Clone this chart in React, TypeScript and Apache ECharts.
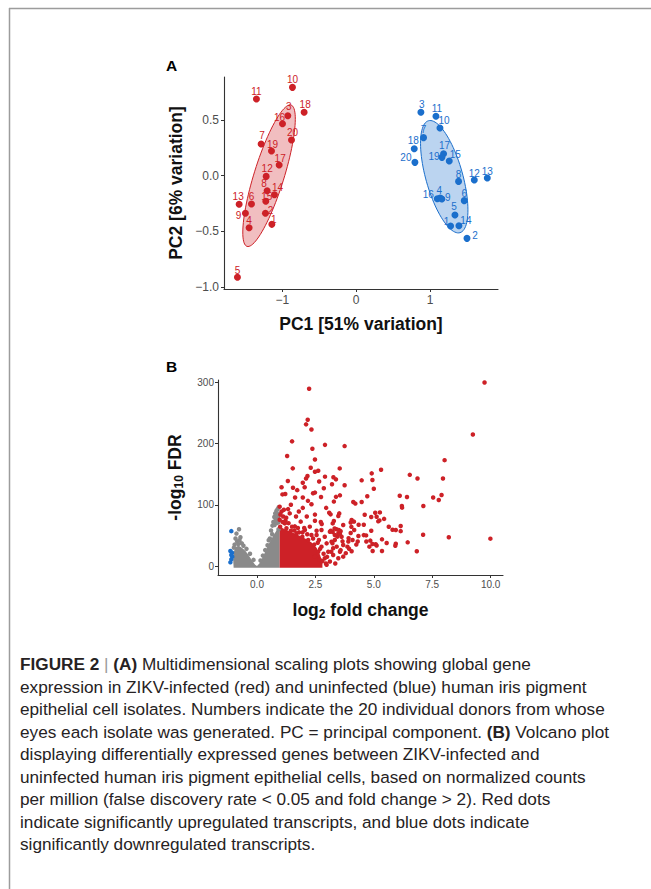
import React, { useEffect, useRef } from "react";
import * as echarts from "echarts";

// ---------- Panel A: MDS / PCA ----------
const pcXTicks = [-1, 0, 1];
const pcYTicks = [-1, -0.5, 0, 0.5];

// [donor, PC1, PC2] ZIKV-infected (red)
const infectedPCA: [string, number, number][] = [
  ["10", -0.863, 0.794], ["11", -1.351, 0.689], ["18", -0.705, 0.571], ["3", -0.926, 0.539],
  ["16", -0.998, 0.467], ["20", -0.876, 0.321], ["7", -1.287, 0.285], ["19", -1.147, 0.222],
  ["17", -1.043, 0.096], ["12", -1.219, -0.006], ["8", -1.206, -0.135], ["14", -1.107, -0.171],
  ["15", -1.224, -0.23], ["13", -1.585, -0.257], ["6", -1.418, -0.254], ["2", -1.229, -0.338],
  ["9", -1.5, -0.338], ["1", -1.142, -0.437], ["4", -1.45, -0.467], ["5", -1.608, -0.913],
];
// [donor, PC1, PC2] uninfected (blue)
const uninfectedPCA: [string, number, number][] = [
  ["3", 0.876, 0.57], ["11", 1.08, 0.534], ["10", 1.134, 0.429], ["7", 0.912, 0.342],
  ["18", 0.786, 0.243], ["20", 0.795, 0.12], ["17", 1.183, 0.198], ["19", 1.161, 0.165],
  ["15", 1.26, 0.132], ["8", 1.386, -0.051], ["12", 1.599, -0.039], ["13", 1.775, -0.021],
  ["16", 1.098, -0.207], ["4", 1.138, -0.2], ["9", 1.16, -0.21], ["6", 1.463, -0.224],
  ["5", 1.337, -0.353], ["1", 1.278, -0.452], ["14", 1.391, -0.449], ["2", 1.5, -0.563],
];
// label nudges (px), styling only
const infectedNudge: [number, number][] = [
  [0, -8], [0, -8], [1, -8], [1, -9], [-3, -6], [1, -7], [1, -8], [1, -7], [1, -7], [1, -8],
  [-3, -7], [3, -7], [1, -5], [-1, -8], [0, -7], [5, -3], [-7, 2], [2, -5], [0, -7], [0, -7],
];
const uninfectedNudge: [number, number][] = [
  [1, -8], [1, -8], [4, -7], [0, -8], [-1, -8], [-9, -5], [1, -8], [-8, -1], [6, -7], [0, -7],
  [0, -7], [0, -7], [-9, -4], [-1, -7], [6, -2], [0, -7], [-1, -8], [-4, -5], [7, -5], [8, -3],
];
// confidence ellipses: centre and two conjugate semi-axes (data units)
const infectedEllipse = { center: [-1.18, 0.0], a: [0.298, 0.635], b: [0.194, -0.04] };
const uninfectedEllipse = { center: [1.192, -0.009], a: [-0.213, 0.503], b: [0.24, 0.045] };

// ---------- Panel B: volcano ----------
const volXTicks = [0, 2.5, 5, 7.5, 10];
const volYTicks = [0, 100, 200, 300];

const grayCloudOutline: [number, number][] = [
  [-1.0, -3], [-1.02, 10], [-1.0, 22], [-0.95, 28], [-0.88, 32], [-0.78, 33], [-0.65, 30],
  [-0.5, 25], [-0.35, 17], [-0.2, 8], [-0.08, 2], [0, 0], [0.1, 4], [0.2, 11], [0.3, 19],
  [0.4, 28], [0.5, 36], [0.6, 43], [0.7, 50], [0.8, 56], [0.9, 62], [0.97, 64], [0.97, -3],
];
const grayPoints: [number, number][] = [
  [-0.77, 60], [-0.88, 53], [-0.71, 47], [-0.85, 40], [-0.75, 42], [-0.92, 45], [-0.65, 37],
  [-0.96, 35], [-0.58, 33], [-0.45, 28], [-0.8, 36], [-0.99, 30], [-0.3, 20], [-0.15, 10],
  [0.15, 9], [0.25, 17], [0.35, 26], [0.45, 34], [0.55, 45], [0.65, 52], [0.6, 58], [0.66, 66],
  [0.75, 67], [0.7, 72], [0.8, 75], [0.92, 72], [0.85, 70], [0.74, 80], [0.9, 79], [0.86, 84],
  [0.78, 86], [0.83, 90], [0.88, 93], [0.93, 96], [0.95, 85], [0.5, 42], [0.92, 60],
];
const redCloudOutline: [number, number][] = [
  [0.97, -3], [0.97, 64], [1.2, 60], [1.5, 55], [1.8, 50], [2.1, 44], [2.35, 38], [2.55, 30],
  [2.7, 18], [2.8, 6], [2.8, -3],
];
const upPoints: [number, number][] = [
  [2.23, 289.7], [2.1, 231.5], [2.17, 239], [2.33, 223], [1.5, 203.7], [2.91, 198], [2.37, 191.7],
  [3.75, 196], [1.29, 179.7], [2.48, 174], [1.53, 159.6], [2.3, 160.7], [3.54, 159.5], [2.62, 155.8],
  [2.48, 154], [2.16, 147], [2.91, 146], [3.27, 145], [1.32, 139], [2.1, 143], [1.96, 136],
  [2.66, 138], [3.21, 133.5], [3.75, 132], [1.05, 128.6], [1.54, 128], [2.04, 128.6], [2.86, 127],
  [1.21, 117.6], [1.09, 117], [1.72, 124], [2.74, 112.7], [2.48, 120], [2.4, 119], [1.96, 112],
  [1.63, 112], [3.55, 115.5], [3.29, 105.3], [2.18, 106.5], [2.33, 101], [1.96, 95], [1.45, 100],
  [2.96, 95], [1.33, 93], [3.09, 87], [3.52, 86], [1.79, 89], [2.48, 84], [1.67, 81], [2.13, 81],
  [1.22, 74], [2.77, 68.6], [2.48, 74], [3.24, 69.6], [3.4, 60], [1.62, 64.8], [2.02, 62],
  [3.58, 57], [2.55, 57.6], [1.45, 57.6], [3.24, 55.6],
  [9.74, 300], [9.24, 215], [8.03, 173], [5.31, 157.4], [4.91, 151.4], [6.54, 149], [3.38, 141.6],
  [7.96, 143], [6.87, 143], [4.48, 140], [4.94, 140.5], [5.0, 126.3], [6.11, 114.9], [6.42, 112.7],
  [4.72, 114], [3.38, 113], [7.9, 116], [7.54, 112], [7.78, 107.9], [6.2, 98], [6.21, 95.4],
  [7.12, 98], [4.12, 104.6], [4.21, 102], [4.48, 104.6], [4.61, 83.8], [5.06, 87], [5.26, 87.6],
  [5.12, 80.5], [4.89, 80], [5.24, 74.5], [5.44, 77], [5.19, 73], [3.15, 84.4], [3.48, 81.7],
  [3.29, 73.5], [4.05, 75.2], [4.15, 72.5], [4.01, 71], [4.35, 67.4], [4.89, 57.6], [4.67, 50],
  [5.64, 64.2], [5.8, 59.3], [5.94, 58.8], [6.15, 65.3], [6.15, 57], [7.11, 51.2], [8.21, 46.9],
  [9.99, 44.7], [6.45, 38.7], [5.94, 36.5], [5.92, 33.2], [5.55, 37.6], [5.35, 43.6], [5.35, 24.5],
  [4.95, 24.5], [6.84, 24], [5.08, 35.5], [5.12, 33.4], [4.85, 41.5], [4.94, 36], [4.81, 31.6],
  [4.68, 40], [4.57, 50.5], [4.34, 49], [4.31, 40], [4.25, 35], [4.09, 42.6], [3.92, 45.3],
  [3.91, 40], [3.87, 31.6], [3.94, 28.3], [3.66, 40.3], [3.58, 26], [3.48, 53.4], [3.44, 48],
  [3.33, 42.6], [3.23, 37.3], [3.26, 29], [3.18, 23.4], [4.01, 53.9], [4.16, 58.8], [4.57, 67.4],
  [4.04, 64], [3.69, 67], [3.16, 57.6], [3.32, 61.4], [3.55, 52],
  [2.55, 50.6], [2.76, 58.8], [2.9, 47.9], [3.12, 56], [3.33, 50.6], [3.5, 58.8], [3.62, 47.9],
  [2.98, 37], [3.19, 39.8], [3.41, 31.6], [2.76, 31.6], [2.62, 23.4], [3.05, 23.4], [3.26, 18],
  [3.55, 23.4], [2.9, 12.6], [2.69, 10], [3.12, 7.3], [3.48, 12.6], [3.69, 15.3], [2.73, 72],
  [2.65, 42.5], [2.48, 15.3], [3.69, 34.3], [3.35, 4], [2.98, 2], [3.8, 21], [4.05, 24],
  [0.97, 97], [1.05, 89], [1.12, 81], [0.97, 75.5], [1.19, 69.6], [1.4, 86], [1.5, 64.3],
  [1.26, 61.6], [0.99, 64.3], [1.87, 72.5], [1.69, 53.4], [2.05, 58.8], [2.26, 64.3], [1.94, 47.9],
  [2.33, 50.6], [2.19, 42.5], [1.35, 70], [1.1, 72], [1.6, 58], [1.8, 55], [2.4, 45], [2.6, 38],
  [2.7, 28], [2.85, 20], [2.8, 8], [2.95, 4], [3.0, 15], [1.0, 84], [1.15, 92], [1.25, 79],
  [1.75, 62], [1.95, 55], [2.15, 52], [2.45, 35],
];
const downPoints: [number, number][] = [
  [-1.1, 57], [-1.14, 24.5], [-1.07, 21.8], [-1.1, 17.9], [-1.06, 15.3], [-1.1, 10.9], [-1.14, 6],
];

const captionLines = [
  "{b|FIGURE 2} {g||} {b|(A)} Multidimensional scaling plots showing global gene",
  "expression in ZIKV-infected (red) and uninfected (blue) human iris pigment",
  "epithelial cell isolates. Numbers indicate the 20 individual donors from whose",
  "eyes each isolate was generated. PC = principal component. {b|(B)} Volcano plot",
  "displaying differentially expressed genes between ZIKV-infected and",
  "uninfected human iris pigment epithelial cells, based on normalized counts",
  "per million (false discovery rate < 0.05 and fold change > 2). Red dots",
  "indicate significantly upregulated transcripts, and blue dots indicate",
  "significantly downregulated transcripts.",
];

const FONT = "'Liberation Sans', Arial, Helvetica, sans-serif";
const RED = "#CD2127";
const BLUE = "#1B6FCC";
const GRAY = "#8A8A8A";
const CAP = 17.2;

function ellipsePoints(e: { center: number[]; a: number[]; b: number[] }) {
  const pts: number[][] = [];
  for (let i = 0; i <= 96; i++) {
    const t = (2 * Math.PI * i) / 96;
    pts.push([
      e.center[0] + e.a[0] * Math.cos(t) + e.b[0] * Math.sin(t),
      e.center[1] + e.a[1] * Math.cos(t) + e.b[1] * Math.sin(t),
    ]);
  }
  return pts;
}

function polySeries(pts: number[][], xi: number, fill: string, stroke: string, lw: number) {
  return {
    type: "custom",
    xAxisIndex: xi,
    yAxisIndex: xi,
    silent: true,
    clip: false,
    data: [[pts[0][0], pts[0][1]]],
    renderItem: (_p: any, api: any) => ({
      type: "polygon",
      shape: { points: pts.map((p) => api.coord(p)) },
      style: { fill, stroke, lineWidth: lw },
    }),
  };
}

const minusFmt = (v: number, d: number) =>
  (v < 0 ? "\u2212" : "") + Math.abs(v).toFixed(d);

function pcaSeries(rows: [string, number, number][], nudge: [number, number][], color: string) {
  return {
    type: "scatter",
    xAxisIndex: 0,
    yAxisIndex: 0,
    symbolSize: 7,
    itemStyle: { color, opacity: 1 },
    data: rows.map((r, i) => ({
      name: r[0],
      value: [r[1], r[2]],
      label: { offset: nudge[i] },
    })),
    label: {
      show: true,
      position: "inside",
      formatter: "{b}",
      color,
      fontSize: 10,
      fontFamily: FONT,
    },
  };
}

function axisCommon(ticks: number[], fmt: (v: number) => string, fontSize: number, margin: number) {
  return {
    type: "value",
    axisLine: { show: true, onZero: false, lineStyle: { color: "#333", width: 1.1 } },
    axisTick: { show: true, customValues: ticks, length: 3, lineStyle: { color: "#333", width: 1 } },
    axisLabel: { customValues: ticks, formatter: fmt, color: "#4D4D4D", fontSize, fontFamily: FONT, margin },
    splitLine: { show: false },
    nameLocation: "middle",
  };
}

const nameStyle = { fontWeight: "bold", fontSize: 17.5, color: "#111", fontFamily: FONT };
const richName = {
  t: { fontWeight: "bold", fontSize: 17.5, color: "#111", fontFamily: FONT },
  s: { fontWeight: "bold", fontSize: 12, color: "#111", fontFamily: FONT, padding: [8, 0, 0, 0] },
};

const option: any = {
  animation: false,
  backgroundColor: "#fff",
  grid: [
    { left: 224, top: 77, width: 274, height: 212, outerBoundsMode: "none" },
    { left: 218, top: 380, width: 285, height: 195, outerBoundsMode: "none" },
  ],
  xAxis: [
    {
      ...axisCommon(pcXTicks, (v) => minusFmt(v, 0), 12, 5),
      gridIndex: 0, min: -1.79, max: 1.92,
      name: "PC1 [51% variation]", nameGap: 26, nameTextStyle: nameStyle,
    },
    {
      ...axisCommon(volXTicks, (v) => v.toFixed(1), 10, 4),
      gridIndex: 1, min: -1.67, max: 10.53,
      name: "{t|log}{s|2}{t| fold change}", nameGap: 25,
      nameTextStyle: { rich: richName },
    },
  ],
  yAxis: [
    {
      ...axisCommon(pcYTicks, (v) => minusFmt(v, 1), 12, 5),
      gridIndex: 0, min: -1.018, max: 0.887,
      name: "PC2 [6% variation]", nameGap: 39, nameTextStyle: nameStyle,
    },
    {
      ...axisCommon(volYTicks, (v) => String(v), 10, 4),
      gridIndex: 1, min: -14.7, max: 304,
      name: "{t|-log}{s|10}{t| FDR}", nameGap: 33,
      nameTextStyle: { rich: richName },
    },
  ],
  series: [
    polySeries(ellipsePoints(infectedEllipse), 0, "#F1BEC0", RED, 1),
    polySeries(ellipsePoints(uninfectedEllipse), 0, "#BBD4F0", BLUE, 1),
    pcaSeries(infectedPCA, infectedNudge, RED),
    pcaSeries(uninfectedPCA, uninfectedNudge, BLUE),
    polySeries(grayCloudOutline, 1, GRAY, GRAY, 0),
    { type: "scatter", xAxisIndex: 1, yAxisIndex: 1, symbolSize: 4.5, itemStyle: { color: GRAY, opacity: 1 }, data: grayPoints },
    polySeries(redCloudOutline, 1, RED, RED, 0),
    { type: "scatter", xAxisIndex: 1, yAxisIndex: 1, symbolSize: 4.5, itemStyle: { color: RED, opacity: 1 }, data: upPoints },
    { type: "scatter", xAxisIndex: 1, yAxisIndex: 1, symbolSize: 4.5, itemStyle: { color: BLUE, opacity: 1 }, data: downPoints },
  ],
  graphic: [
    { type: "line", shape: { x1: 9, y1: 8.5, x2: 651, y2: 8.5 }, style: { stroke: "#9C9C9C", lineWidth: 1.5 } },
    { type: "line", shape: { x1: 9.5, y1: 8, x2: 9.5, y2: 889 }, style: { stroke: "#9C9C9C", lineWidth: 1.5 } },
    { type: "text", x: 166, y: 65.5, style: { text: "A", fontSize: 15.5, fontWeight: "bold", fontFamily: FONT, fill: "#000", verticalAlign: "middle" } },
    { type: "text", x: 166, y: 366, style: { text: "B", fontSize: 15.5, fontWeight: "bold", fontFamily: FONT, fill: "#000", verticalAlign: "middle" } },
    ...captionLines.map((line, i) => ({
      type: "text",
      x: 20,
      y: 664 + i * 22.5,
      style: {
        text: line,
        fontSize: CAP,
        fontFamily: FONT,
        fill: "#262223",
        verticalAlign: "middle",
        rich: {
          b: { fontWeight: "bold", fontSize: CAP, fontFamily: FONT, fill: "#262223" },
          g: { fontSize: CAP, fontFamily: FONT, fill: "#9A9A9A" },
        },
      },
    })),
  ],
};

export default function App() {
  const ref = useRef<HTMLDivElement>(null);
  useEffect(() => {
    const chart = echarts.init(ref.current!, null, { renderer: "svg" });
    chart.setOption(option);
    return () => chart.dispose();
  }, []);
  return (
    <div
      ref={ref}
      style={{ position: "absolute", left: 0, top: 0, width: 651, height: 889, background: "#fff" }}
    />
  );
}
